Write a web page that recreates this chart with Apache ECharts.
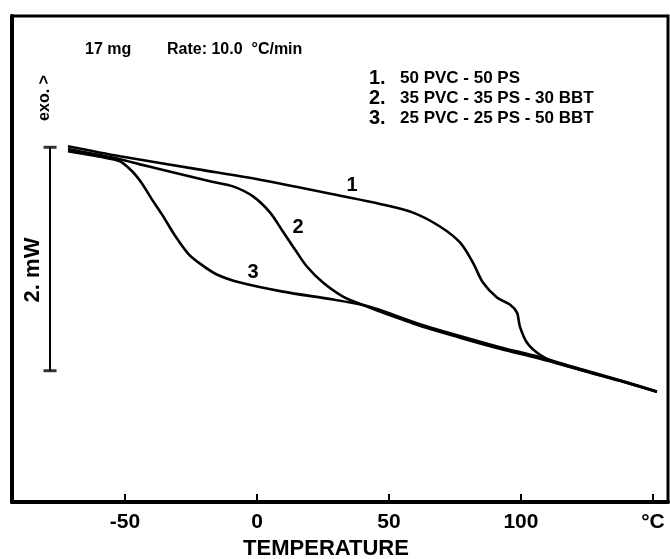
<!DOCTYPE html>
<html>
<head>
<meta charset="utf-8">
<script src="https://cdn.jsdelivr.net/npm/echarts@6/dist/echarts.min.js"></script>
<style>
    html, body { margin: 0; padding: 0; background: #fff; }
    #chart { width: 670px; height: 559px; }
</style>
</head>
<body>
<div id="chart"></div>
<script>
// x: temperature in °C, y: heat flow in mW (offset is arbitrary, only the 2 mW bar matters)
var tickValues = [-50, 0, 50, 100, 150];
var tickLabels = ['-50', '0', '50', '100', '°C'];

// 1. 50 PVC - 50 PS
var curve1 = [
    [-71.6, 3.184], [-51.9, 3.094], [-21.6, 2.975], [1.1, 2.885],
    [34.1, 2.730], [46.6, 2.668], [59.1, 2.590], [69.3, 2.466], [76.9, 2.323],
    [81.8, 2.143], [85.6, 1.964], [90.9, 1.830], [95.8, 1.767], [98.5, 1.695],
    [99.6, 1.570], [102.3, 1.426], [107.2, 1.318], [112.9, 1.252], [122.3, 1.184],
    [137.5, 1.085], [151.5, 0.987]
];
// 2. 35 PVC - 35 PS - 30 BBT
var curve2 = [
    [-71.6, 3.160], [-59.5, 3.105], [-51.9, 3.067], [-44.3, 3.022], [-36.7, 2.978],
    [-17.8, 2.870], [-9.1, 2.825], [-1.5, 2.735], [4.9, 2.592], [9.8, 2.422],
    [14.4, 2.260], [18.9, 2.108], [25.0, 1.964], [32.6, 1.839], [41.7, 1.749],
    [46.6, 1.704], [61.7, 1.578], [76.9, 1.471], [92.0, 1.372], [107.2, 1.283],
    [122.3, 1.184], [137.5, 1.085], [151.5, 0.987]
];
// 3. 25 PVC - 25 PS - 50 BBT
var curve3 = [
    [-71.6, 3.140], [-59.5, 3.090], [-51.9, 3.049], [-47.3, 2.960], [-43.9, 2.861],
    [-39.8, 2.709], [-36.0, 2.574], [-31.1, 2.386], [-26.1, 2.224], [-21.6, 2.134],
    [-15.2, 2.036], [-6.4, 1.964], [9.8, 1.883], [28.8, 1.812], [41.7, 1.755],
    [46.6, 1.718], [61.7, 1.592], [76.9, 1.486], [92.0, 1.386], [107.2, 1.296],
    [122.3, 1.192], [137.5, 1.090], [151.5, 0.990]
];
// 2 mW scale bar
var scaleBar = [[-78.4, 1.175], [-78.4, 3.175]];

var legendNums = ['1.', '2.', '3.'];
var legendNames = ['50 PVC - 50 PS', '35 PVC - 35 PS - 30 BBT', '25 PVC - 25 PS - 50 BBT'];

var FONT = '"Liberation Sans", Arial, Helvetica, sans-serif';

function txt(x, y, s, size, align, rot) {
    return {
        type: 'text', x: x, y: y, rotation: rot || 0,
        style: {
            text: s, fill: '#000', font: 'bold ' + size + 'px ' + FONT,
            textAlign: align || 'left', textVerticalAlign: 'middle'
        }
    };
}

function curveSeries(name, data) {
    return {
        name: name, type: 'line', data: data,
        showSymbol: false, smooth: 0.3,
        lineStyle: { color: '#000', width: 2.6 },
        silent: true
    };
}

var chart = echarts.init(document.getElementById('chart'));

var graphics = [
    txt(85, 50, '17 mg', 16),
    txt(167, 50, 'Rate: 10.0  °C/min', 16),
    txt(45, 98, 'exo. >', 16, 'center', Math.PI / 2),
    txt(33, 270, '2. mW', 22, 'center', Math.PI / 2),
    txt(352, 185, '1', 20, 'center'),
    txt(298, 227, '2', 20, 'center'),
    txt(253, 272, '3', 20, 'center'),
    txt(326, 549, 'TEMPERATURE', 22, 'center')
];
for (var i = 0; i < legendNums.length; i++) {
    graphics.push(txt(369, 78 + i * 20, legendNums[i], 20));
    graphics.push(txt(400, 78 + i * 20, legendNames[i], 17));
}

var option = {
    backgroundColor: '#fff',
    animation: false,
    grid: {
        left: 12, right: 2, top: 16, bottom: 57,
        show: true, borderColor: '#000', borderWidth: 3
    },
    xAxis: {
        type: 'value', min: -92.8, max: 155.7,
        axisLine: { onZero: false, lineStyle: { color: '#000', width: 4 } },
        axisTick: {
            customValues: tickValues, inside: true, length: 8,
            lineStyle: { color: '#000', width: 2 }
        },
        axisLabel: {
            customValues: tickValues, margin: 10,
            color: '#000', fontFamily: FONT, fontWeight: 'bold', fontSize: 21,
            formatter: function (v) { return tickLabels[tickValues.indexOf(v)]; }
        },
        splitLine: { show: false }
    },
    yAxis: {
        type: 'value', min: 0, max: 4.35,
        axisLine: { show: true, onZero: false, lineStyle: { color: '#000', width: 4 } },
        axisTick: { show: false },
        axisLabel: { show: false },
        splitLine: { show: false }
    },
    graphic: graphics,
    series: [
        curveSeries('1', curve1),
        curveSeries('2', curve2),
        curveSeries('3', curve3),
        {
            type: 'line', data: scaleBar, showSymbol: false, silent: true,
            lineStyle: { color: '#000', width: 2 }
        },
        {
            type: 'scatter', data: scaleBar, symbol: 'rect', symbolSize: [13, 3],
            itemStyle: { color: '#000' }, silent: true
        }
    ]
};
chart.setOption(option);
</script>
</body>
</html>
